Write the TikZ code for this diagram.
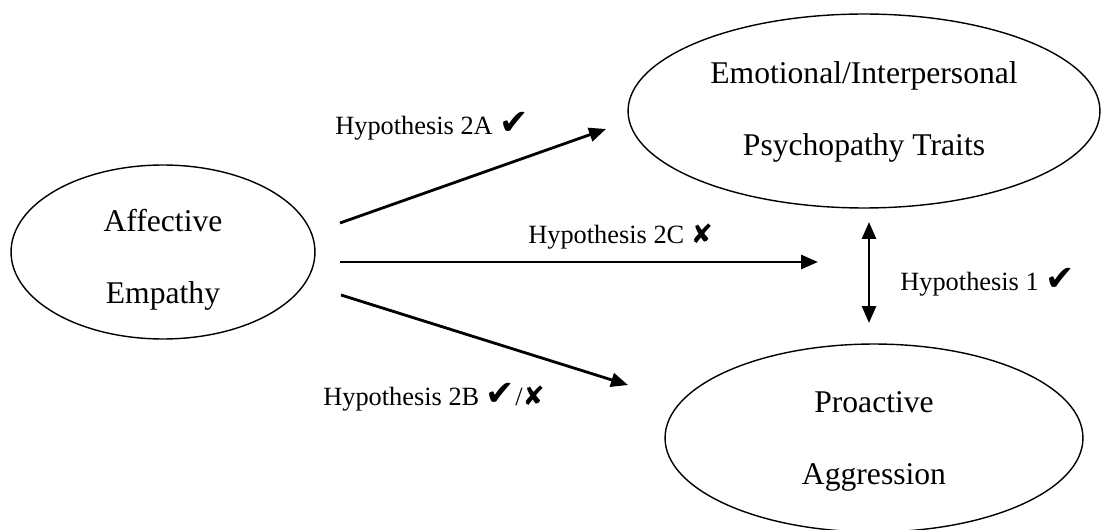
\documentclass[tikz,border=0pt]{standalone}
\usepackage{fontspec}
\setmainfont{Liberation Serif}
\newfontfamily\symfont{DejaVu Sans}
\usetikzlibrary{shapes.geometric,arrows.meta}

\newcommand{\yes}{{\symfont\fontsize{20}{20}\selectfont\char"2714}}
\newcommand{\no}{{\symfont\char"2718}}
\newcommand{\topgap}[1]{\rule{0pt}{#1}}

\tikzset{
  construct/.style={draw, line width=0.8pt, ellipse, align=center, inner sep=0pt,
    font=\fontsize{18}{41}\selectfont},
  link/.style={line width=1.6pt, -{Triangle[length=3.4mm,width=2.8mm]}},
  hyp/.style={font=\fontsize{15}{18}\selectfont, inner sep=0pt, anchor=base west}
}

\begin{document}
\begin{tikzpicture}[x=0.02cm, y=-0.02cm]
\useasboundingbox (0,0) rectangle (1101,530);

\node[construct, minimum width=6.08cm, minimum height=3.48cm] (emp) at (163,252) {\topgap{22pt}Affective\\Empathy};
\node[construct, minimum width=9.44cm, minimum height=3.88cm] (psy) at (864,111) {\topgap{14pt}Emotional/Interpersonal\\Psychopathy Traits};
\node[construct, minimum width=8.36cm, minimum height=3.76cm] (agg) at (874,438) {\topgap{16pt}Proactive\\Aggression};

\coordinate (a2s) at (340,223);
\coordinate (a2e) at (606,129);
\coordinate (c2s) at (340,262);
\coordinate (c2e) at (818,262);
\coordinate (b2s) at (341,295);
\coordinate (b2e) at (628,385);
\coordinate (h1s) at (869,222);
\coordinate (h1e) at (869,323);

\draw[link] (a2s) -- (a2e);
\draw[link] (c2s) -- (c2e);
\draw[link] (b2s) -- (b2e);
\draw[link, {Triangle[length=3.4mm,width=2.8mm]}-{Triangle[length=3.4mm,width=2.8mm]}] (h1s) -- (h1e);

\node[hyp] (h2a) at (335,135) {Hypothesis 2A \yes};
\node[hyp] (h2c) at (528,243) {Hypothesis 2C \no};
\node[hyp] (h2b) at (323,405) {Hypothesis 2B \yes/\no};
\node[hyp] (h1) at (900,290) {Hypothesis 1 \yes};
\end{tikzpicture}
\end{document}
